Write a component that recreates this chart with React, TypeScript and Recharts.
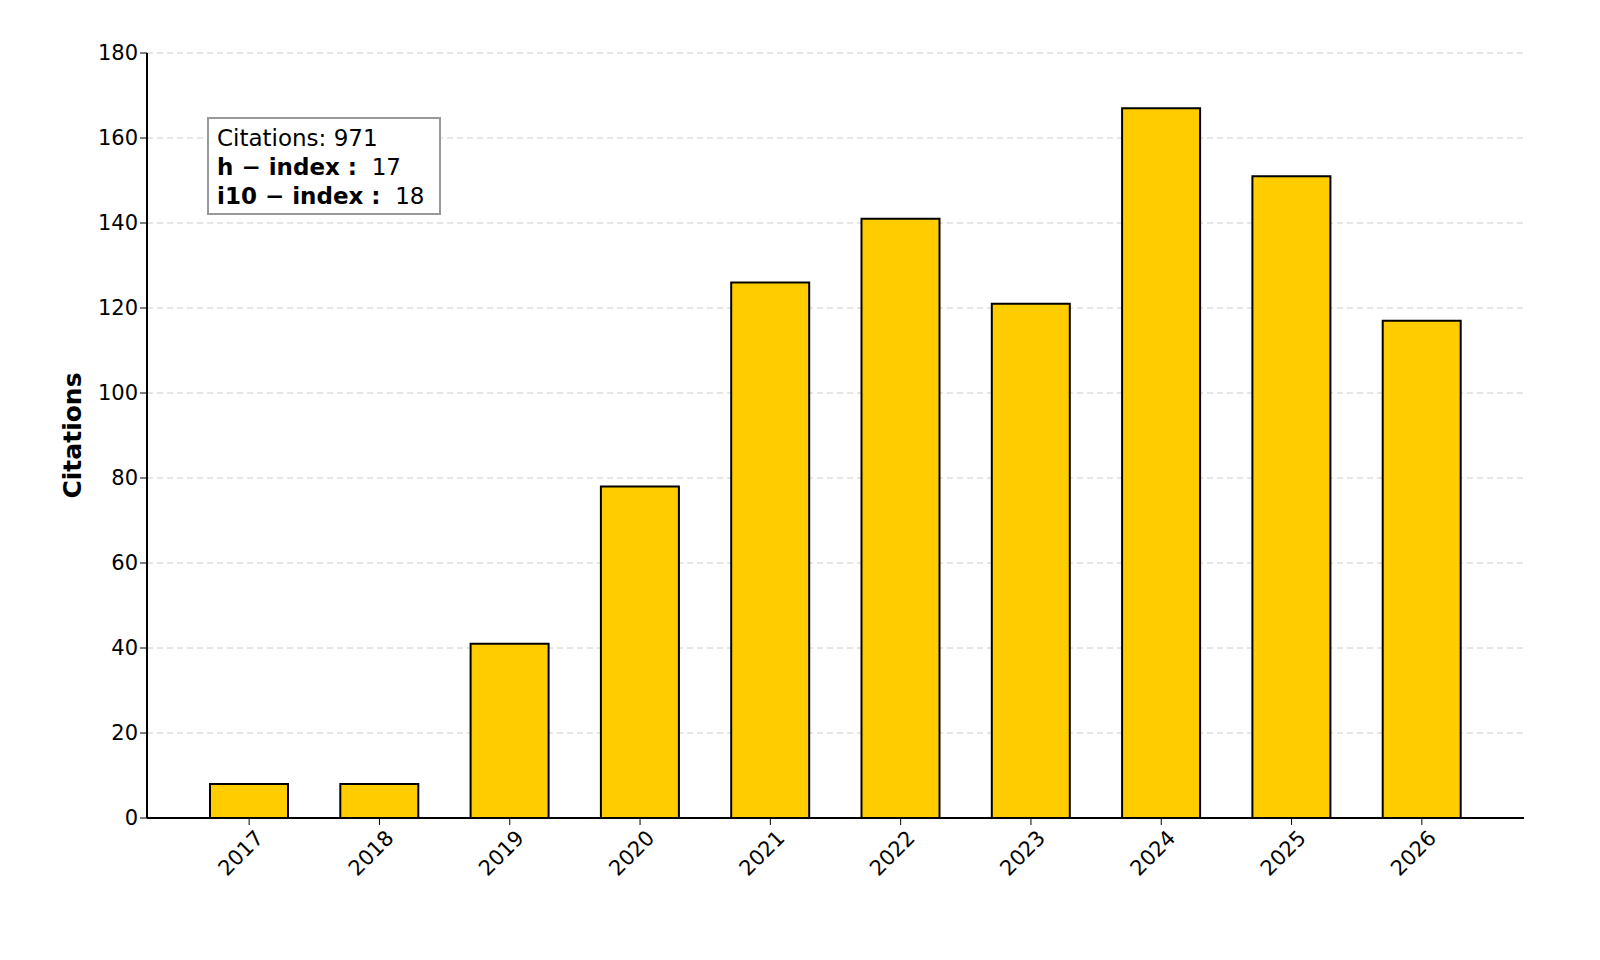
import React from "react";
import { BarChart, Bar, XAxis, YAxis, CartesianGrid } from "recharts";

const years = ["2017","2018","2019","2020","2021","2022","2023","2024","2025","2026"];
const citations = [8, 8, 41, 78, 126, 141, 121, 167, 151, 117];
const yTicks = [0, 20, 40, 60, 80, 100, 120, 140, 160, 180];

const data = years.map((y, i) => ({ year: y, value: citations[i] }));
const font = "DejaVu Sans, sans-serif";

const XTick = (props: any) => {
  const { x, y, payload } = props;
  return (
    <g transform={`translate(${x},${y + 8})`}>
      <text transform="rotate(-45)" textAnchor="end" dy={14} dx={8} fontSize={21} fill="#000" fontFamily={font}>
        {payload.value}
      </text>
    </g>
  );
};

export default function App() {
  return (
    <div style={{ position: "relative", width: 1600, height: 960, fontFamily: font }}>
      <BarChart width={1600} height={960} data={data} margin={{ top: 45, right: 84, left: 79, bottom: 70 }}>
        <CartesianGrid vertical={false} stroke="#cccccc" strokeDasharray="6 4" />
        <XAxis dataKey="year" padding={{ left: 37, right: 37 }} height={80} tick={<XTick />}
          axisLine={{ stroke: "#000", strokeWidth: 2 }} tickLine={{ stroke: "#000" }} tickSize={7} interval={0} />
        <YAxis domain={[0, 180]} ticks={yTicks} width={60} axisLine={{ stroke: "#000", strokeWidth: 2 }}
          tickLine={{ stroke: "#000" }} tickSize={7} tick={{ fontSize: 21, fill: "#000", fontFamily: font }}
          label={{ value: "Citations", angle: -90, position: "insideLeft", dx: -20, style: { fontSize: 25, fontWeight: "bold", fill: "#000", fontFamily: font, textAnchor: "middle" } }} />
        <Bar dataKey="value" fill="#FFCC00" stroke="#000" strokeWidth={2} barSize={78} isAnimationActive={false} />
      </BarChart>
      <div style={{ position: "absolute", left: 199, top: 109, width: 234, height: 98, border: "2px solid #999", background: "#fff", fontSize: 23, lineHeight: "29px", padding: "5px 8px", boxSizing: "border-box", color: "#000" }}>
        <div>Citations: 971</div>
        <div><b>h − index :</b>&nbsp; 17</div>
        <div><b>i10 − index :</b>&nbsp; 18</div>
      </div>
    </div>
  );
}
